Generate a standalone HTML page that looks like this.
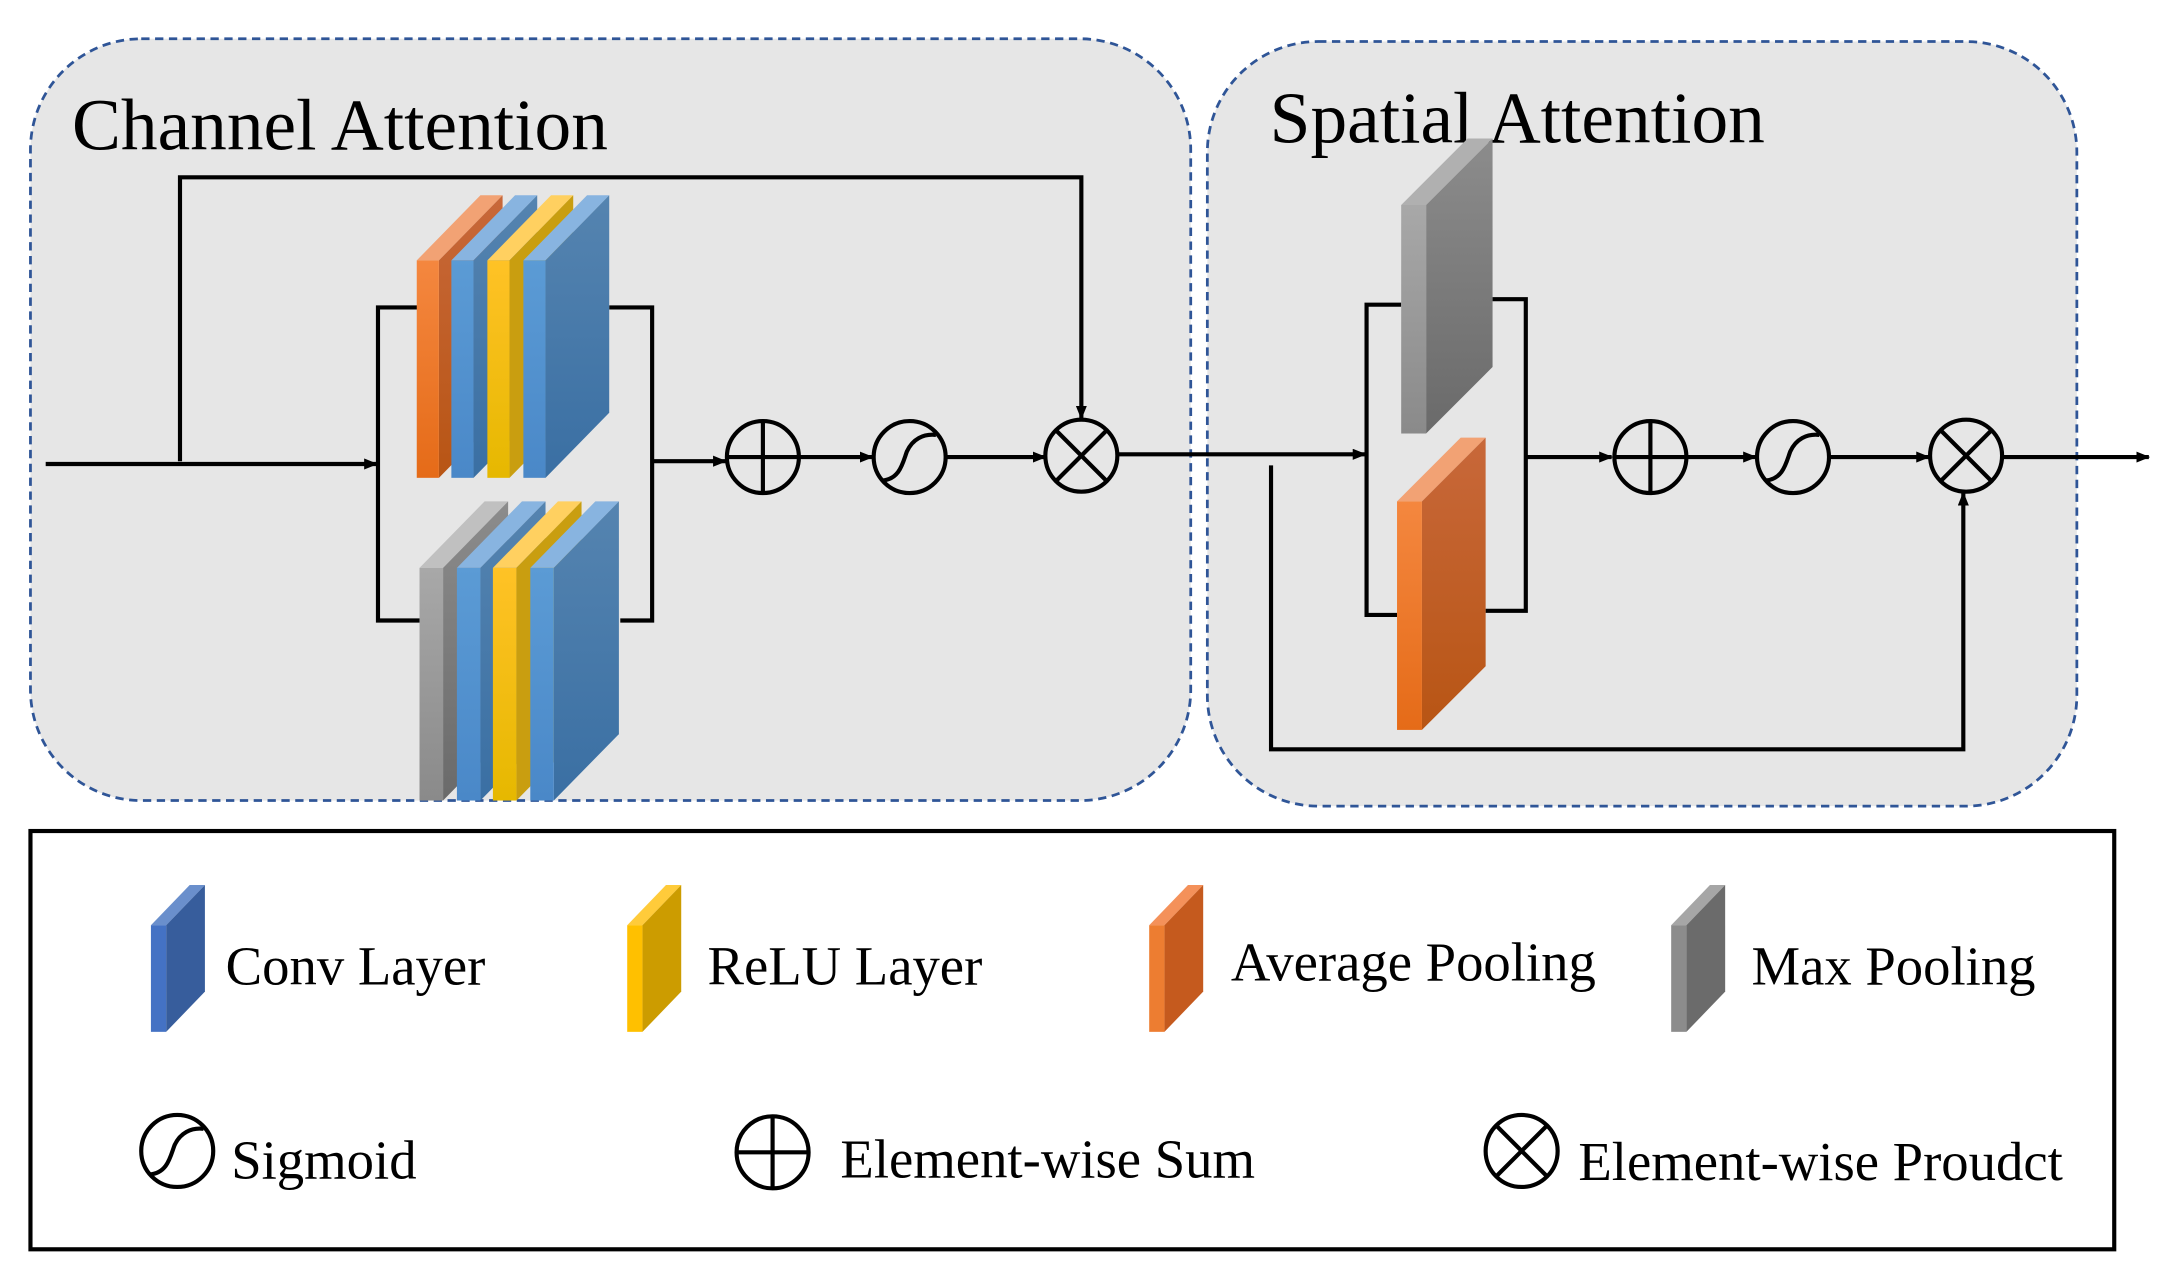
<!DOCTYPE html>
<html><head><meta charset="utf-8"><style>html,body{margin:0;padding:0;background:#fff}svg{display:block}</style></head>
<body>
<svg width="2171" height="1277" viewBox="0 0 1568 922" preserveAspectRatio="none" xmlns="http://www.w3.org/2000/svg" font-family="Liberation Serif, serif">
<defs>
<marker id="ar" markerWidth="10" markerHeight="8" refX="9" refY="4" orient="auto" markerUnits="userSpaceOnUse"><path d="M0,0 L10,4 L0,8 z" fill="#000"/></marker>
<linearGradient id="gB" x1="0" y1="0" x2="0" y2="1"><stop offset="0" stop-color="#5b9bd5"/><stop offset="1" stop-color="#4a88c8"/></linearGradient>
<linearGradient id="gBs" x1="0" y1="0" x2="0" y2="1"><stop offset="0" stop-color="#5584b0"/><stop offset="1" stop-color="#3a6fa3"/></linearGradient>
<linearGradient id="gO" x1="0" y1="0" x2="0" y2="1"><stop offset="0" stop-color="#f4873f"/><stop offset="1" stop-color="#e56b18"/></linearGradient>
<linearGradient id="gY" x1="0" y1="0" x2="0" y2="1"><stop offset="0" stop-color="#ffc226"/><stop offset="1" stop-color="#e6b800"/></linearGradient>
<linearGradient id="gG" x1="0" y1="0" x2="0" y2="1"><stop offset="0" stop-color="#a8a8a8"/><stop offset="1" stop-color="#8a8a8a"/></linearGradient>
<linearGradient id="gGs" x1="0" y1="0" x2="0" y2="1"><stop offset="0" stop-color="#8c8c8c"/><stop offset="1" stop-color="#6a6a6a"/></linearGradient>
<linearGradient id="gOs" x1="0" y1="0" x2="0" y2="1"><stop offset="0" stop-color="#c8683a"/><stop offset="1" stop-color="#b85514"/></linearGradient>
</defs>

<rect x="22" y="28" width="838" height="550" rx="80" fill="#e6e6e6" stroke="#2f5597" stroke-width="2" stroke-dasharray="6,4"/>
<rect x="872" y="30" width="628" height="552" rx="80" fill="#e6e6e6" stroke="#2f5597" stroke-width="2" stroke-dasharray="6,4"/>
<text x="52" y="108" font-size="53">Channel Attention</text>
<text x="917" y="103" font-size="53">Spatial Attention</text>

<g stroke="#000" stroke-width="3" fill="none">
<path d="M33,335 H272" marker-end="url(#ar)"/>
<path d="M130,333 V128 H781 V302" marker-end="url(#ar)"/>
<path d="M303,222 H273 V448 H303"/>
<path d="M440,222 H471 V448 H448"/>
<path d="M471,333 H524" marker-end="url(#ar)"/>
<path d="M577,330 H630" marker-end="url(#ar)"/>
<path d="M683,330 H755" marker-end="url(#ar)"/>
<path d="M807,328 H986" marker-end="url(#ar)"/>
<path d="M1012,220 H987 V444 H1009"/>
<path d="M1078,216 H1102 V441 H1073"/>
<path d="M1102,330 H1164" marker-end="url(#ar)"/>
<path d="M1218,330 H1268" marker-end="url(#ar)"/>
<path d="M1321,330 H1393" marker-end="url(#ar)"/>
<path d="M1446,330 H1552" marker-end="url(#ar)"/>
<path d="M918,336 V541 H1418 V356" marker-end="url(#ar)"/>
<circle cx="551" cy="330" r="26"/><path d="M525,330 H577 M551,304 V356"/>
<circle cx="657" cy="330" r="26"/><path d="M637,347 C650,346 652,334 655,326 C659,317 667,313 676,314"/>
<circle cx="781" cy="329" r="26"/><path d="M763,311 L799,347 M799,311 L763,347"/>
<circle cx="1192" cy="330" r="26"/><path d="M1166,330 H1218 M1192,304 V356"/>
<circle cx="1295" cy="330" r="26"/><path d="M1275,347 C1288,346 1290,334 1293,326 C1297,317 1305,313 1314,314"/>
<circle cx="1420" cy="329" r="26"/><path d="M1402,311 L1438,347 M1438,311 L1402,347"/>
</g>

<g>
<path d="M301,188 h16 l46,-47 h-16 z" fill="#f2a274"/><path d="M317,188 l46,-47 v157 l-46,47 z" fill="url(#gOs)"/><rect x="301" y="188" width="16" height="157" fill="url(#gO)"/>
<path d="M326,188 h16 l46,-47 h-16 z" fill="#88b4e0"/><path d="M342,188 l46,-47 v157 l-46,47 z" fill="url(#gBs)"/><rect x="326" y="188" width="16" height="157" fill="url(#gB)"/>
<path d="M352,188 h16 l46,-47 h-16 z" fill="#ffd060"/><path d="M368,188 l46,-47 v157 l-46,47 z" fill="#c99e10"/><rect x="352" y="188" width="16" height="157" fill="url(#gY)"/>
<path d="M378,188 h16 l46,-47 h-16 z" fill="#88b4e0"/><path d="M394,188 l46,-47 v157 l-46,47 z" fill="url(#gBs)"/><rect x="378" y="188" width="16" height="157" fill="url(#gB)"/>
</g>
<g>
<path d="M303,410 h17 l47,-48 h-17 z" fill="#c0c0c0"/><path d="M320,410 l47,-48 v168 l-47,48 z" fill="url(#gGs)"/><rect x="303" y="410" width="17" height="168" fill="url(#gG)"/>
<path d="M330,410 h17 l47,-48 h-17 z" fill="#88b4e0"/><path d="M347,410 l47,-48 v168 l-47,48 z" fill="url(#gBs)"/><rect x="330" y="410" width="17" height="168" fill="url(#gB)"/>
<path d="M356,410 h17 l47,-48 h-17 z" fill="#ffd060"/><path d="M373,410 l47,-48 v168 l-47,48 z" fill="#c99e10"/><rect x="356" y="410" width="17" height="168" fill="url(#gY)"/>
<path d="M383,410 h17 l47,-48 h-17 z" fill="#88b4e0"/><path d="M400,410 l47,-48 v168 l-47,48 z" fill="url(#gBs)"/><rect x="383" y="410" width="17" height="168" fill="url(#gB)"/>
</g>
<path d="M1012,148 h18 l48,-48 h-18 z" fill="#b0b0b0"/><path d="M1030,148 l48,-48 v165 l-48,48 z" fill="url(#gGs)"/><rect x="1012" y="148" width="18" height="165" fill="url(#gG)"/>
<path d="M1009,362 h18 l46,-46 h-18 z" fill="#f2a274"/><path d="M1027,362 l46,-46 v165 l-46,46 z" fill="url(#gOs)"/><rect x="1009" y="362" width="18" height="165" fill="url(#gO)"/>

<rect x="22" y="600" width="1505" height="302" fill="#fff" stroke="#000" stroke-width="3"/>
<g>
<path d="M109,668 h11 l28,-29 h-11 z" fill="#6a8fcc"/><path d="M120,668 l28,-29 v77 l-28,29 z" fill="#375d9c"/><rect x="109" y="668" width="11" height="77" fill="#4472c4"/>
<path d="M453,668 h11 l28,-29 h-11 z" fill="#ffcb3a"/><path d="M464,668 l28,-29 v77 l-28,29 z" fill="#cc9c00"/><rect x="453" y="668" width="11" height="77" fill="#ffc000"/>
<path d="M830,668 h11 l28,-29 h-11 z" fill="#f4915a"/><path d="M841,668 l28,-29 v77 l-28,29 z" fill="#c55a1e"/><rect x="830" y="668" width="11" height="77" fill="#ed7d31"/>
<path d="M1207,668 h11 l28,-29 h-11 z" fill="#a6a6a6"/><path d="M1218,668 l28,-29 v77 l-28,29 z" fill="#6b6b6b"/><rect x="1207" y="668" width="11" height="77" fill="#8c8c8c"/>
</g>
<g font-size="39.5" fill="#000">
<text x="163" y="711">Conv Layer</text>
<text x="511" y="711">ReLU Layer</text>
<text x="889" y="708">Average Pooling</text>
<text x="1265" y="711">Max Pooling</text>
<text x="167" y="851">Sigmoid</text>
<text x="607" y="850">Element-wise Sum</text>
<text x="1140" y="852">Element-wise Proudct</text>
</g>
<g stroke="#000" stroke-width="3" fill="none">
<circle cx="128" cy="831" r="26"/><path d="M108,848 C121,847 123,835 126,827 C130,818 138,814 147,815"/>
<circle cx="558" cy="832" r="26"/><path d="M532,832 H584 M558,806 V858"/>
<circle cx="1099" cy="831" r="26"/><path d="M1081,813 L1117,849 M1117,813 L1081,849"/>
</g>
</svg>
</body></html>
